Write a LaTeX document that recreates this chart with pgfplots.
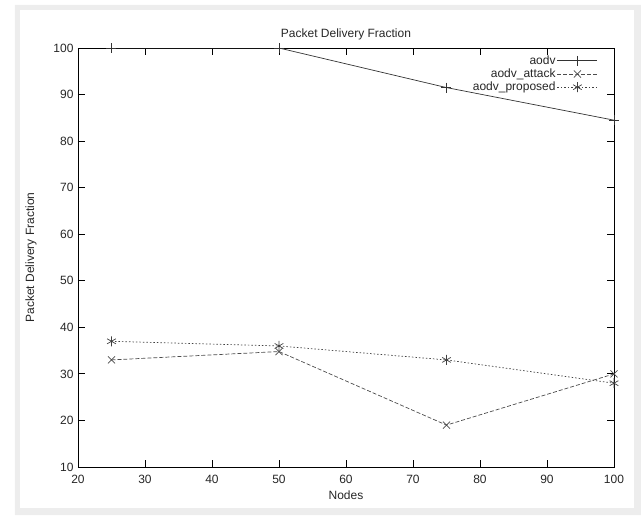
\documentclass[border=0pt]{standalone}
\usepackage{pgfplots}
\pgfplotsset{compat=1.18}
\usepackage{fontspec}
\setmainfont{Liberation Sans}
\begin{document}
\begin{tikzpicture}
\fill[black!7, even odd rule] (-63pt,-48pt) rectangle (563pt,462pt)
  (-58pt,-41pt) rectangle (556pt,457pt);
\begin{axis}[
  name=ax,
  at={(0,0)}, anchor=south west,
  scale only axis,
  width=536pt, height=419pt,
  xmin=20, xmax=100, ymin=10, ymax=100,
  xtick={20,30,...,100}, ytick={10,20,...,100},
  tick align=inside, major tick length=7pt,
  tick style={black, line width=0.8pt},
  axis line style={black, line width=0.9pt},
  /pgf/number format/assume math mode=true,
  tick label style={font=\fontsize{12}{14}\selectfont, text=black!85},
  xticklabel style={yshift=-5pt},
  yticklabel style={xshift=-1pt},
  xlabel={Nodes}, ylabel={Packet Delivery Fraction},
  label style={font=\fontsize{12}{14}\selectfont, text=black!85},
  xlabel style={yshift=0pt},
  ylabel style={yshift=10pt},
  title={Packet Delivery Fraction},
  title style={font=\fontsize{12}{14}\selectfont, text=black!85, yshift=-2pt},
  legend style={draw=none, fill=none, at={(1,1)}, anchor=north east,
    xshift=-16pt, yshift=-6pt, inner sep=0pt,
    font=\fontsize{12}{14}\selectfont, text=black!85,
    nodes={font=\fontsize{12}{14}\selectfont, inner sep=1.5pt},
    row sep=0pt},
  legend cell align=right,
  legend plot pos=right,
  legend image code/.code={\draw[mark repeat=2,mark phase=2] plot coordinates {(0pt,0pt) (20pt,0pt) (40pt,0pt)};},
  every axis plot/.append style={line width=0.7pt, mark size=5pt},
]
\addplot[black!80, mark=+, mark options={solid}] coordinates {(25,100) (50,100) (75,91.5) (100,84.5)};
\addlegendentry{aodv}
\addplot[black!70, dash pattern=on 4pt off 2pt, mark=x, mark options={solid}] coordinates {(25,33) (50,34.8) (75,19) (100,30)};
\addlegendentry{aodv\_attack}
\addplot[black!75, dash pattern=on 1.5pt off 2pt, mark=asterisk, mark options={solid}] coordinates {(25,37) (50,36) (75,33) (100,28)};
\addlegendentry{aodv\_proposed}
\end{axis}
\path[use as bounding box] (-78pt,-48pt) rectangle (563pt,467pt);
\end{tikzpicture}
\end{document}
